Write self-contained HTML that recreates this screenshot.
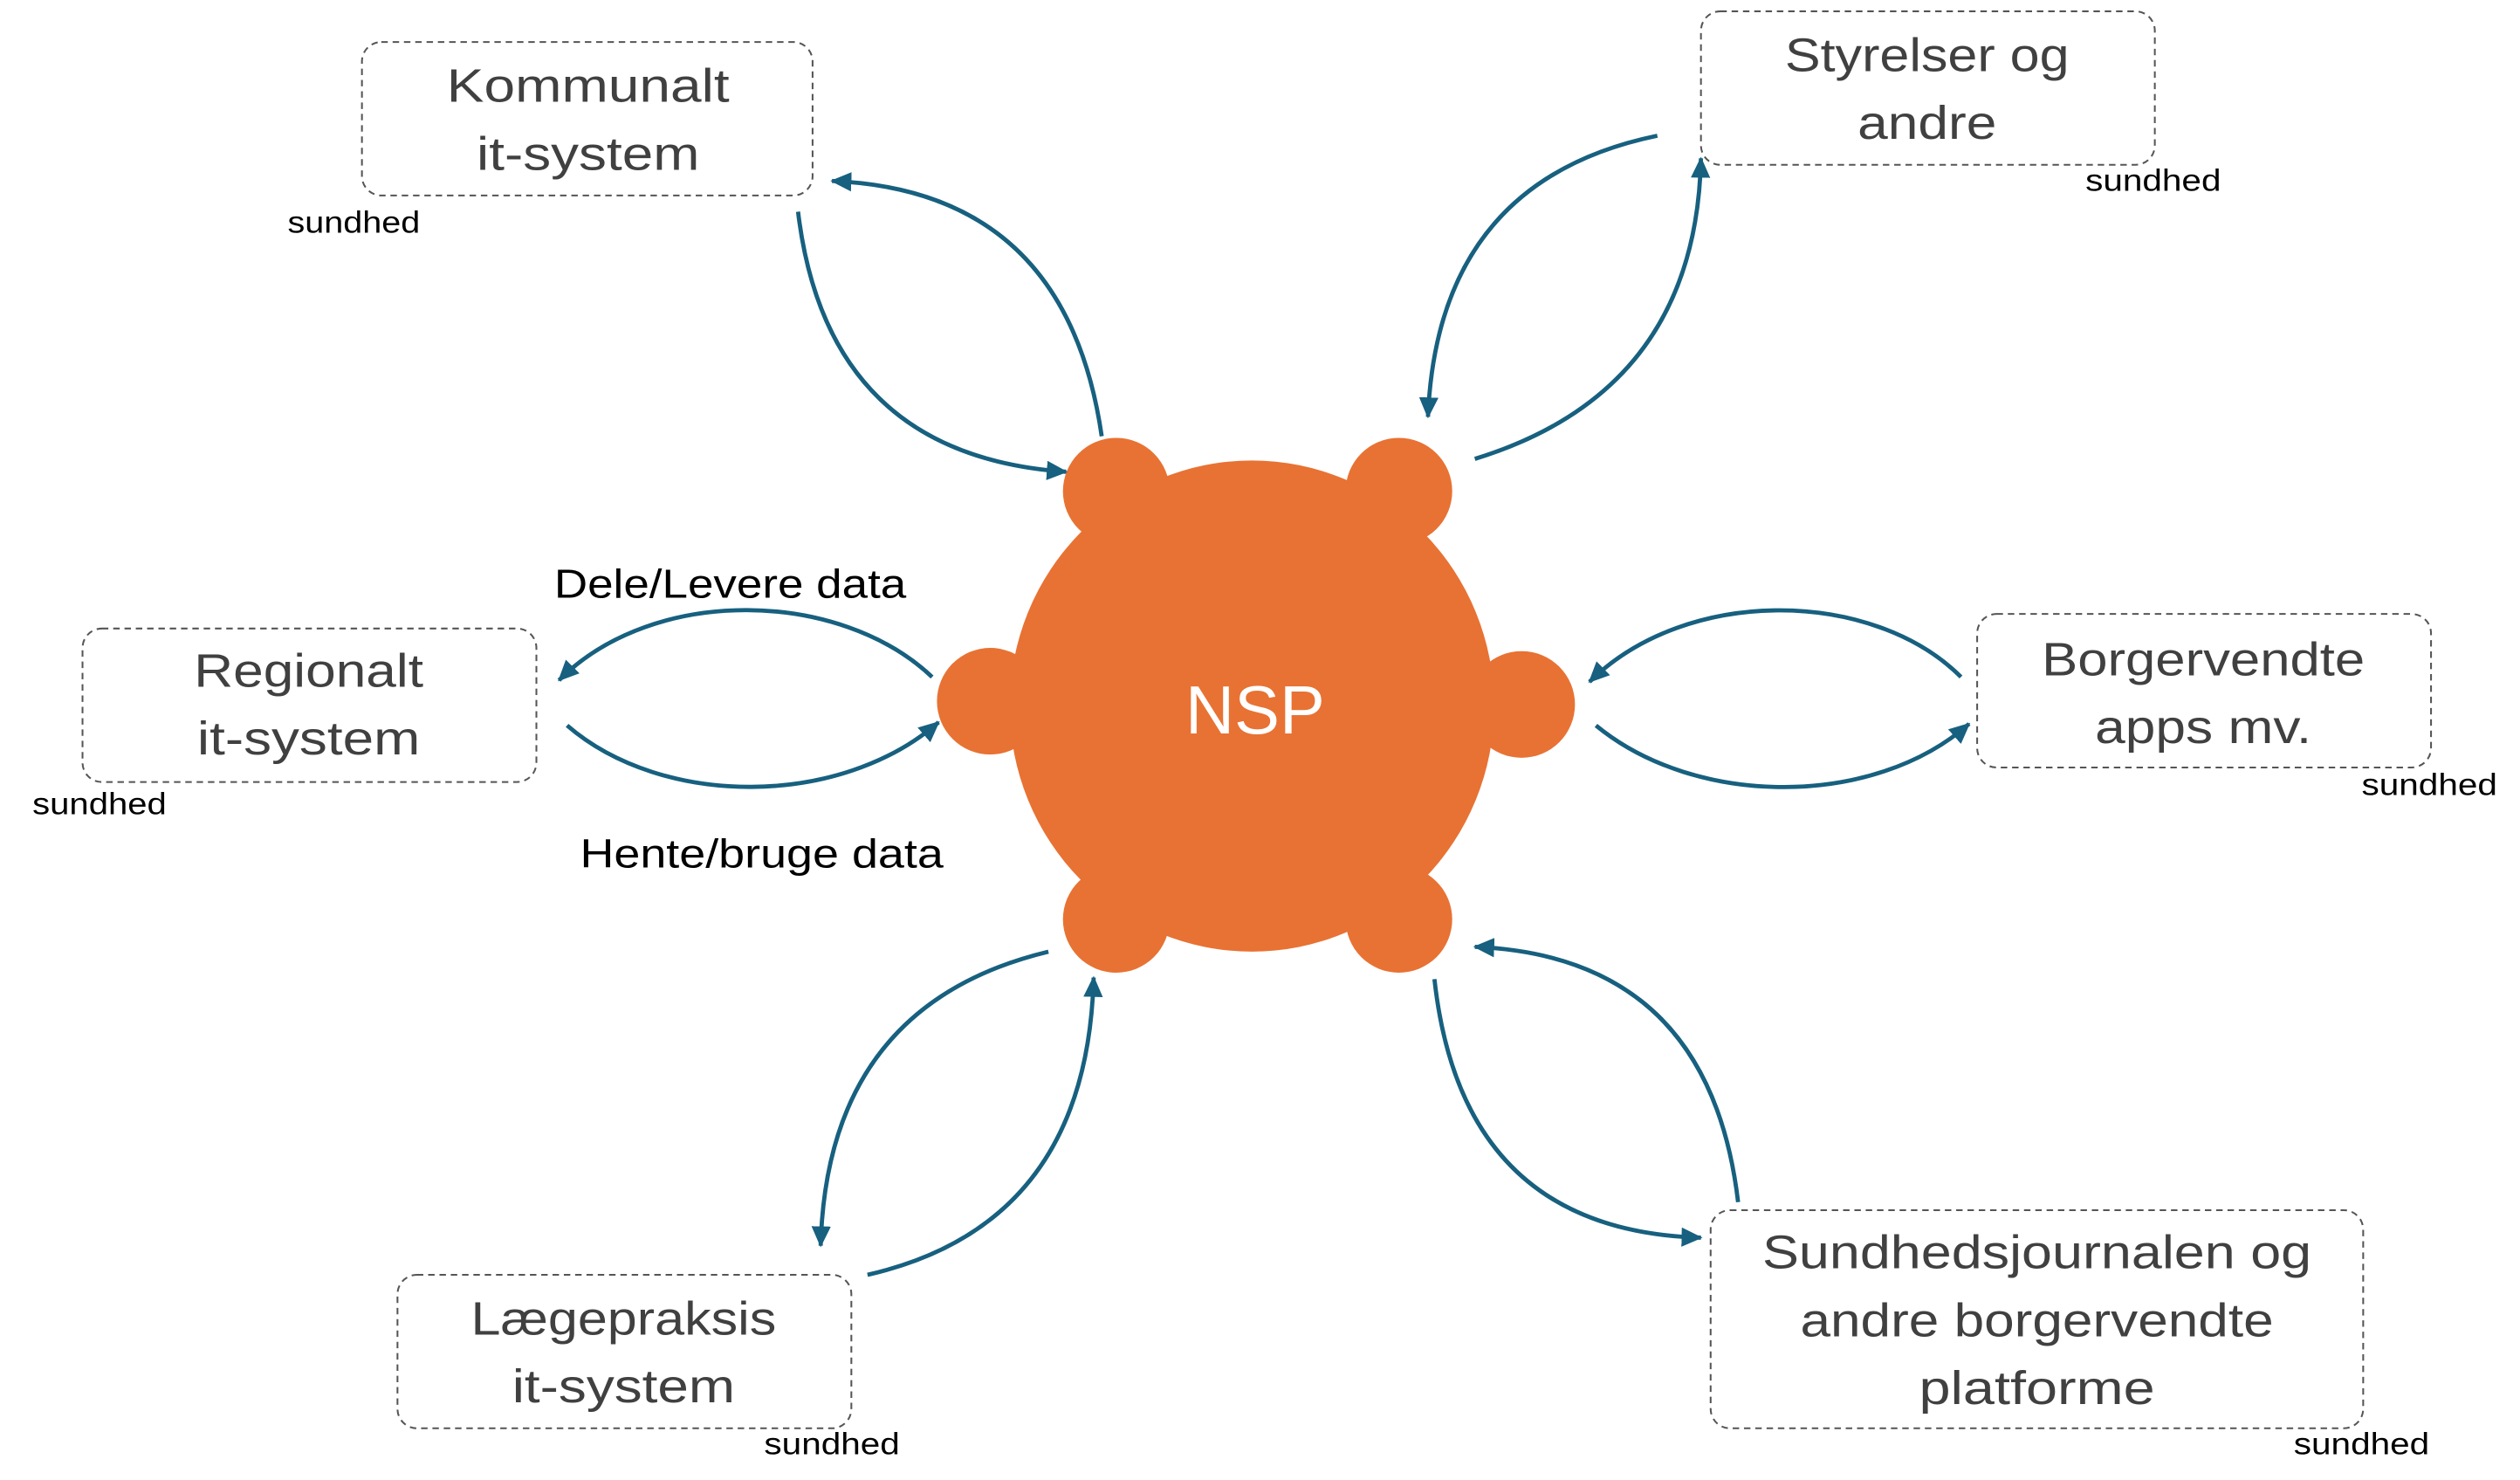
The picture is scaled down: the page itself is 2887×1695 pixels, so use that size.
<!DOCTYPE html>
<html><head><meta charset="utf-8"><style>
html,body{margin:0;padding:0;background:#fff;}
svg{display:block;}
.bt{font-family:"Liberation Sans",sans-serif;font-size:29px;fill:#404040;text-anchor:middle;}
.sm{font-family:"Liberation Sans",sans-serif;font-size:19px;fill:#000;}
.lb{font-family:"Liberation Sans",sans-serif;font-size:25px;fill:#000;}
.c{fill:none;stroke:#17607f;stroke-width:2.6;marker-end:url(#ah);}
.bx{fill:#fff;stroke:#555;stroke-width:1.1;stroke-dasharray:4 3;}
</style></head><body>
<svg width="2887" height="1695" viewBox="0 0 1560 916" xmlns="http://www.w3.org/2000/svg">
<defs>
<marker id="ah" markerUnits="userSpaceOnUse" markerWidth="16" markerHeight="14" refX="12" refY="6" orient="auto">
<path d="M0,0 L13,6 L0,12 Z" fill="#17607f"/>
</marker>
</defs>
<rect width="1560" height="916" fill="#fff"/>

<!-- center -->
<g fill="#e87233">
<ellipse cx="775" cy="437" rx="150" ry="152"/>
<circle cx="691" cy="304" r="33"/>
<circle cx="866" cy="304" r="33"/>
<circle cx="613" cy="434" r="33"/>
<circle cx="942" cy="436" r="33"/>
<circle cx="691" cy="569" r="33"/>
<circle cx="866" cy="569" r="33"/>
</g>
<text x="777" y="454" font-family="Liberation Sans, sans-serif" font-size="42" fill="#fff" text-anchor="middle">NSP</text>

<!-- boxes -->
<rect class="bx" x="224" y="26" width="279" height="95" rx="12"/>
<text class="bt" x="364" y="63" textLength="175" lengthAdjust="spacingAndGlyphs">Kommunalt</text>
<text class="bt" x="364" y="105" textLength="138" lengthAdjust="spacingAndGlyphs">it-system</text>
<text class="sm" x="178" y="144" textLength="82" lengthAdjust="spacingAndGlyphs">sundhed</text>

<rect class="bx" x="1053" y="7" width="281" height="95" rx="12"/>
<text class="bt" x="1193" y="44" textLength="176" lengthAdjust="spacingAndGlyphs">Styrelser og</text>
<text class="bt" x="1193" y="86" textLength="86" lengthAdjust="spacingAndGlyphs">andre</text>
<text class="sm" x="1291" y="118" textLength="84" lengthAdjust="spacingAndGlyphs">sundhed</text>

<rect class="bx" x="51" y="389" width="281" height="95" rx="12"/>
<text class="bt" x="191" y="425" textLength="142" lengthAdjust="spacingAndGlyphs">Regionalt</text>
<text class="bt" x="191" y="467" textLength="138" lengthAdjust="spacingAndGlyphs">it-system</text>
<text class="sm" x="20" y="504" textLength="83" lengthAdjust="spacingAndGlyphs">sundhed</text>

<rect class="bx" x="1224" y="380" width="281" height="95" rx="12"/>
<text class="bt" x="1364" y="418" textLength="200" lengthAdjust="spacingAndGlyphs">Borgervendte</text>
<text class="bt" x="1364" y="460" textLength="134" lengthAdjust="spacingAndGlyphs">apps mv.</text>
<text class="sm" x="1462" y="492" textLength="84" lengthAdjust="spacingAndGlyphs">sundhed</text>

<rect class="bx" x="246" y="789" width="281" height="95" rx="12"/>
<text class="bt" x="386" y="826" textLength="189" lengthAdjust="spacingAndGlyphs">Lægepraksis</text>
<text class="bt" x="386" y="868" textLength="138" lengthAdjust="spacingAndGlyphs">it-system</text>
<text class="sm" x="473" y="900" textLength="84" lengthAdjust="spacingAndGlyphs">sundhed</text>

<rect class="bx" x="1059" y="749" width="404" height="135" rx="12"/>
<text class="bt" x="1261" y="785" textLength="340" lengthAdjust="spacingAndGlyphs">Sundhedsjournalen og</text>
<text class="bt" x="1261" y="827" textLength="293" lengthAdjust="spacingAndGlyphs">andre borgervendte</text>
<text class="bt" x="1261" y="869" textLength="146" lengthAdjust="spacingAndGlyphs">platforme</text>
<text class="sm" x="1420" y="900" textLength="84" lengthAdjust="spacingAndGlyphs">sundhed</text>

<!-- labels -->
<text class="lb" x="343" y="370" textLength="218" lengthAdjust="spacingAndGlyphs">Dele/Levere data</text>
<text class="lb" x="359" y="537" textLength="225" lengthAdjust="spacingAndGlyphs">Hente/bruge data</text>

<!-- connectors -->
<path class="c" d="M494,131 Q512,282 660,292"/>
<path class="c" d="M682,270 Q660,118 515,112"/>
<path class="c" d="M1026,84 Q890,112 884,258"/>
<path class="c" d="M913,284 Q1050,242 1053,98"/>
<path class="c" d="M577,419 C520,365 405,362 346,421"/>
<path class="c" d="M351,449 C410,500 520,500 581,447"/>
<path class="c" d="M1214,419 C1160,365 1045,362 984,422"/>
<path class="c" d="M988,449 C1050,500 1160,500 1219,448"/>
<path class="c" d="M649,589 Q512,622 508,771"/>
<path class="c" d="M537,789 Q673,758 677,605"/>
<path class="c" d="M888,606 Q905,762 1053,766"/>
<path class="c" d="M1076,744 Q1058,592 913,586"/>
</svg>
</body></html>
